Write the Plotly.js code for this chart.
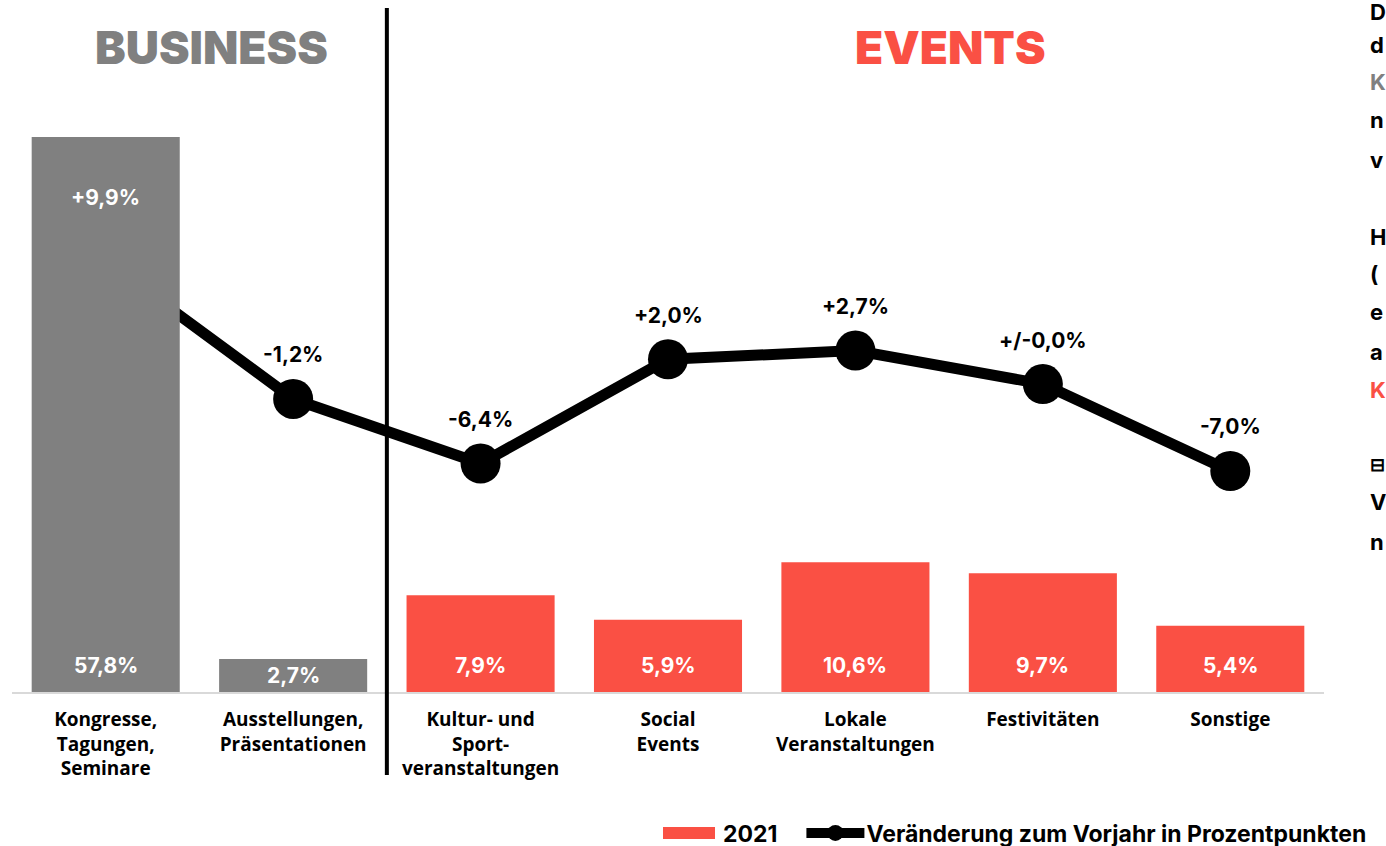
<!DOCTYPE html>
<html>
<head>
<meta charset="utf-8">
<script src="https://cdn.plot.ly/plotly-3.0.1.min.js"></script>
<style>html,body{margin:0;padding:0;background:#fff;overflow:hidden}#chart{width:1386px;height:846px}</style>
</head>
<body>
<div id="chart"></div>
<script>
// ---- data ----
const categories = [
  "Kongresse,<br>Tagungen,<br>Seminare",
  "Ausstellungen,<br>Präsentationen",
  "Kultur- und<br>Sport-<br>veranstaltungen",
  "Social<br>Events",
  "Lokale<br>Veranstaltungen",
  "Festivitäten",
  "Sonstige"
];
const businessCats = categories.slice(0, 2);
const eventCats = categories.slice(2);
const businessShare = [57.8, 2.7];
const eventShare = [7.9, 5.9, 10.6, 9.7, 5.4];
const changeVsPrevYear = [9.9, -1.2, -6.4, 2.0, 2.7, 0.0, -7.0];
const barSeriesName = "2021";
const lineSeriesName = "Veränderung zum Vorjahr in Prozentpunkten";
const groupTitles = ["BUSINESS", "EVENTS"];
const sideTextLines = ["D", "d", "K", "n", "v", "H", "(", "e", "a", "K", "⊟", "V", "n"];

// ---- style ----
const GRAY = "#808080";
const RED = "#FA5044";
const FONT = "Inter, 'Open Sans', sans-serif";

function fmtPct(v) { return v.toFixed(1).replace(".", ",") + "%"; }
function fmtChange(v) {
  if (v === 0) return "+/-" + fmtPct(0);
  return (v > 0 ? "+" : "") + fmtPct(v);
}

const traces = [
  {
    type: "bar", name: barSeriesName, x: eventCats, y: eventShare,
    yaxis: "y2", marker: {color: RED}, width: 0.79, hoverinfo: "skip"
  },
  {
    type: "bar", name: "Business", x: businessCats, y: businessShare,
    yaxis: "y2", marker: {color: GRAY}, width: 0.79, showlegend: false, hoverinfo: "skip"
  },
  {
    type: "scatter", mode: "lines+markers", name: lineSeriesName,
    x: categories, y: changeVsPrevYear, yaxis: "y",
    line: {color: "#000", width: 11}, marker: {color: "#000", size: 40},
    hoverinfo: "skip"
  }
];

const annotations = [];
const allShares = businessShare.concat(eventShare);
allShares.forEach((v, i) => {
  annotations.push({
    x: categories[i], y: Math.min(2.2, v / 2), xref: "x", yref: "y2",
    text: fmtPct(v), showarrow: false,
    font: {family: FONT, size: 21, color: "#fff", weight: 700}
  });
});
changeVsPrevYear.forEach((v, i) => {
  annotations.push({
    x: categories[i], y: v, xref: "x", yref: "y",
    text: fmtChange(v), showarrow: false, yshift: i === 0 ? 64 : 44,
    font: {family: FONT, size: 21, color: i === 0 ? "#fff" : "#000", weight: 700}
  });
});
annotations.push({
  x: 0.1517, y: 1.162, xref: "paper", yref: "paper", xanchor: "center", yanchor: "middle",
  text: groupTitles[0], showarrow: false,
  font: {family: FONT, size: 46, color: GRAY, weight: 900}
});
annotations.push({
  x: 0.715, y: 1.162, xref: "paper", yref: "paper", xanchor: "center", yanchor: "middle",
  text: groupTitles[1], showarrow: false,
  font: {family: FONT, size: 46, color: RED, weight: 900}
});
const sideY = [12, 45, 82, 120, 160, 237, 274, 312, 352, 390, 464, 502, 542];
sideTextLines.forEach((t, i) => {
  let col = "#000";
  if (i === 2) col = GRAY;
  if (i === 9) col = RED;
  annotations.push({
    x: (1368 - 12) / 1312, y: (692 - sideY[i]) / 555, xref: "paper", yref: "paper",
    xanchor: "left", yanchor: "middle", text: t, showarrow: false,
    font: {family: FONT, size: i === 10 ? 18 : 22, color: col, weight: 700}
  });
});

const layout = {
  width: 1386, height: 846,
  margin: {l: 12, r: 62, t: 137, b: 154, autoexpand: false},
  paper_bgcolor: "#fff", plot_bgcolor: "#fff",
  barmode: "overlay",
  showlegend: true,
  legend: {
    orientation: "h", x: (663 - 12) / 1312, xanchor: "left", y: -0.254, yanchor: "middle",
    font: {family: FONT, size: 23, color: "#000", weight: 700},
    itemwidth: 50, traceorder: "normal", bgcolor: "rgba(0,0,0,0)"
  },
  xaxis: {
    type: "category", categoryorder: "array", categoryarray: categories,
    showline: true, linecolor: "#d9d9d9", linewidth: 2,
    showgrid: false, zeroline: false, ticks: "", ticklabelstandoff: 9,
    tickfont: {family: "'Open Sans', sans-serif", size: 19, color: "#000", weight: 700},
    fixedrange: true
  },
  yaxis: {
    range: [-24.8, 19.9], visible: false, showgrid: false, zeroline: false, fixedrange: true
  },
  yaxis2: {
    range: [0, 45.3], overlaying: "y", side: "right", visible: false,
    showgrid: false, zeroline: false, fixedrange: true
  },
  shapes: [{
    type: "line", xref: "x", yref: "paper", x0: 1.5, x1: 1.5,
    y0: (692 - 8) / 555, y1: (692 - 775) / 555,
    line: {color: "#000", width: 4}
  }],
  annotations: annotations
};

const gd = document.getElementById("chart");
Plotly.newPlot(gd, traces, layout, {displayModeBar: false, staticPlot: true}).then(() => {
  // widen legend symbols to match the reference's long swatches
  gd.querySelectorAll(".legend [clip-path]").forEach(el => el.removeAttribute("clip-path"));
  const items = gd.querySelectorAll(".legend .traces");
  items.forEach((tr, idx) => {
    tr.querySelectorAll(".legendpoints path").forEach(p => {
      const cls = p.getAttribute("class") || "";
      if (cls.indexOf("legendundefined") >= 0 || cls.indexOf("legendbar") >= 0) {
        p.setAttribute("d", "M0,6H52V-6H0Z");
        p.setAttribute("transform", "");
      }
    });
    tr.querySelectorAll(".legendlines path").forEach(p => {
      p.setAttribute("d", "M0,0h58");
    });
    tr.querySelectorAll(".legendpoints path.scatterpts").forEach(p => {
      p.setAttribute("transform", "translate(29,0)");
    });
    if (idx > 0) {
      const t = tr.getAttribute("transform") || "";
      const m = t.match(/translate\(\s*([-\d.]+)[ ,]+([-\d.]+)\s*\)/);
      if (m) tr.setAttribute("transform", "translate(" + (parseFloat(m[1]) + 24) + "," + m[2] + ")");
    }
  });
});
</script>
</body>
</html>
